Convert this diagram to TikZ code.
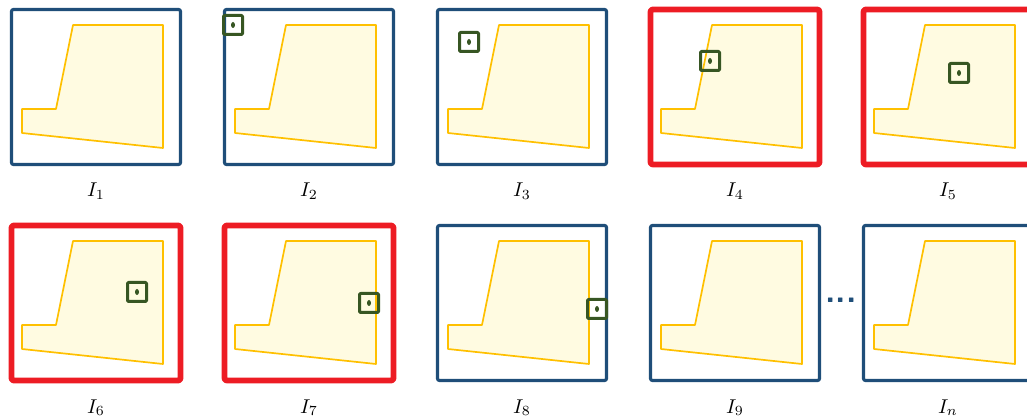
\documentclass[tikz,border=0pt]{standalone}
\usetikzlibrary{positioning}
\definecolor{frameblue}{HTML}{1F4E79}
\definecolor{framered}{HTML}{ED1C24}
\definecolor{roiline}{HTML}{FFC000}
\definecolor{roifill}{HTML}{FFFBE1}
\definecolor{wingreen}{HTML}{375623}
\begin{document}
\begin{tikzpicture}[x=0.5pt, y=-0.5pt, line join=round,
    okframe/.style={rectangle, draw=frameblue, line width=1.6pt, rounded corners=1pt,
      minimum width=84.5pt, minimum height=77.5pt, inner sep=0pt},
    badframe/.style={okframe, draw=framered, line width=2.8pt},
    roi/.style={draw=roiline, fill=roifill, line width=0.85pt},
    window/.style={rectangle, draw=wingreen, line width=1.5pt, rounded corners=0.5pt,
      minimum size=9.5pt, inner sep=0pt,
      path picture={\fill[wingreen] (path picture bounding box.center) ellipse (1pt and 1.5pt);}}]
  \useasboundingbox (0,0) rectangle (1027,416);
  % Images with the region and their frames
  \foreach \n/\x/\y/\kind in {1/96/87/okframe, 2/309/87/okframe, 3/522/87/okframe,
      4/735/87/badframe, 5/948/87/badframe, 6/96/303/badframe, 7/309/303/badframe,
      8/522/303/okframe, 9/735/303/okframe, n/948/303/okframe} {
    \draw[roi, shift={(\x,\y)}] (-23,-62) -- (67,-62) -- (67,61) -- (-74,46) -- (-74,22) -- (-40,22) -- cycle;
    \node[\kind] (f\n) at (\x,\y) {};
    \node[anchor=base] (l\n) at (\x,\y+110) {$I_{\n}$};
  }
  % Sliding window
  \foreach \n/\x/\y in {2/233/25, 3/469/42, 4/710/61, 5/959/73, 6/137/292, 7/369/303, 8/597/309}
    \node[window] (w\n) at (\x,\y) {};
  % Dots
  \node[text=frameblue, font=\fontsize{17}{17}\selectfont\sffamily\bfseries, inner sep=0pt] (dots) at (841,300) {...};
\end{tikzpicture}
\end{document}
